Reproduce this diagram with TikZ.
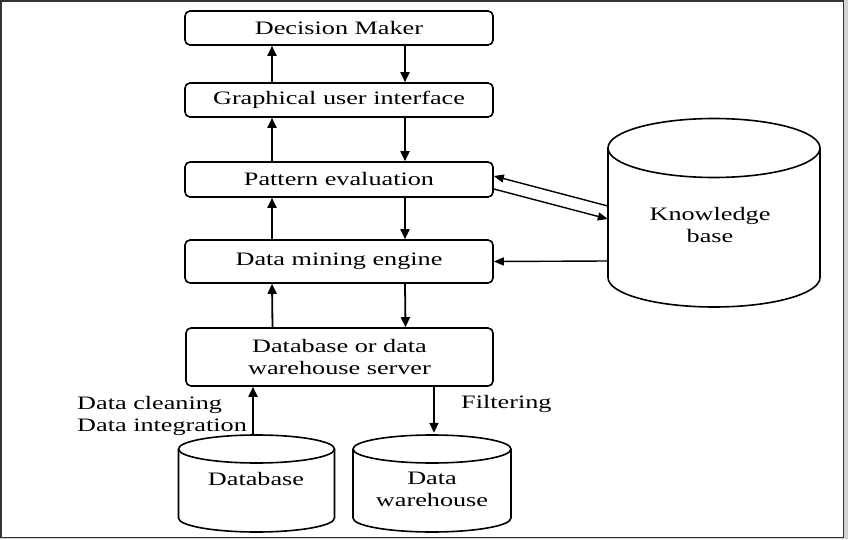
\documentclass[tikz,border=0pt]{standalone}
\usepackage{fontspec}
\setmainfont{Liberation Serif}
\usepackage{graphicx}
\usetikzlibrary{arrows.meta}
\newcommand{\hs}[1]{\scalebox{1.38}[1]{#1}}
\tikzset{
  box/.style={draw, line width=1.6pt, rounded corners=5pt, minimum width=308pt, inner sep=0pt, font=\fontsize{19}{22}\selectfont, align=center},
  lbl/.style={inner sep=0pt, font=\fontsize{19}{22}\selectfont, align=center},
  ghost/.style={inner sep=0pt, draw=none},
  arr/.style={line width=1.8pt, -{Triangle[length=10pt,width=9pt]}},
  thinarr/.style={line width=1.4pt, -{Triangle[length=10pt,width=8pt]}},
  cyl/.style={line width=1.6pt}
}
\newcommand{\cylinder}[5]{% cx, top centre y, rx, ry, bottom centre y
  \draw[cyl] ({#1-#3},#2) -- ({#1-#3},#5) arc[start angle=180, end angle=360, x radius=#3pt, y radius=#4pt] -- ({#1+#3},#2);
  \draw[cyl] (#1,#2) ellipse [x radius=#3pt, y radius=#4pt];
}
\begin{document}
\begin{tikzpicture}[x=1pt,y=1pt]
\useasboundingbox (0,0) rectangle (848,539);
\fill[gray!35] (0,0) rectangle (848,539);
\filldraw[fill=white, draw=black!80, line width=1.6pt] (1,1.5) rectangle (843.5,538);

% boxes
\node[box, minimum height=34pt] (dm)  at (339,511)   {\hs{Decision Maker}};
\node[box, minimum height=34pt] (gui) at (339,439)   {\hs{Graphical user interface}};
\node[box, minimum height=35pt] (pe)  at (339,359.5) {\hs{Pattern evaluation}};
\node[box, minimum height=43pt] (dme) at (339,277.5) {\hs{Data mining engine}};
\node[box, minimum height=58pt, minimum width=307pt] (srv) at (339.5,182) {\hs{Database or data}\\\hs{warehouse server}};

% cylinders
\cylinder{714}{391}{106}{29.5}{261.5}
\cylinder{256.5}{90}{78}{14}{21}
\cylinder{432}{90}{79}{14}{21}
\node[ghost, minimum width=212pt, minimum height=130pt] (kb) at (714,326) {};
\node[ghost, minimum width=156pt, minimum height=97pt] (db) at (256.5,55.5) {};
\node[ghost, minimum width=158pt, minimum height=97pt] (dw) at (432,55.5) {};
\node[lbl] (kbl) at (710,313.5) {\hs{Knowledge}\\\hs{base}};
\node[lbl] (dbl) at (256,60) {\hs{Database}};
\node[lbl] (dwl) at (432,49.5) {\hs{Data}\\\hs{warehouse}};

% vertical arrows
\foreach \a/\b in {gui/dm, pe/gui, dme/pe, srv/dme}
  \draw[arr] ([xshift=-67pt]\a.north) -- ([xshift=-67pt]\b.south);
\foreach \a/\b in {dm/gui, gui/pe, pe/dme, dme/srv}
  \draw[arr] ([xshift=66pt]\a.south) -- ([xshift=66pt]\b.north);

% knowledge base arrows
\draw[thinarr] ([yshift=7pt]kb.west) -- ([yshift=3.5pt]pe.east);
\draw[thinarr] ([yshift=-9.5pt]pe.east) -- ([yshift=-6pt]kb.west);
\draw[thinarr] ([yshift=-48pt]kb.west) -- (dme.east);

% bottom arrows
\draw[arr] ([xshift=-3.5pt]db.north) -- ([xshift=-3.5pt]db.north |- srv.south);
\draw[arr] ([xshift=2pt]dw.north |- srv.south) -- ([xshift=2pt,yshift=2pt]dw.north);

% labels
\node[lbl, anchor=west] (dc) at (77,134) {\hs{Data cleaning}};
\node[lbl, anchor=west] (di) at (77,112) {\hs{Data integration}};
\node[lbl, anchor=west] (fl) at (461,135) {\hs{Filtering}};
\end{tikzpicture}
\end{document}
